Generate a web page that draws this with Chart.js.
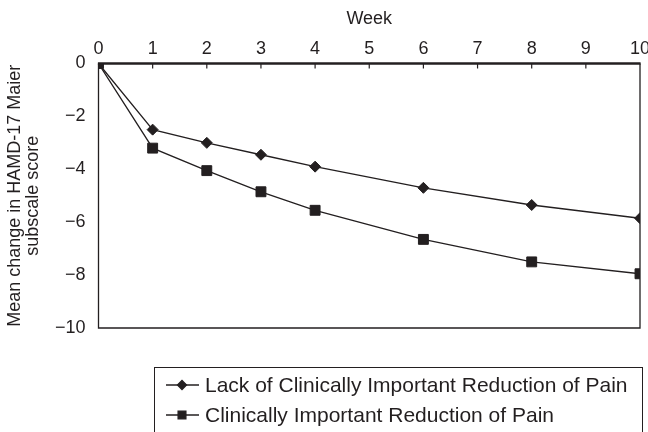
<!DOCTYPE html>
<html>
<head>
<meta charset="utf-8">
<script src="https://cdn.jsdelivr.net/npm/chart.js@4/dist/chart.umd.min.js"></script>
<style>
  html, body { margin: 0; padding: 0; background: #fff; }
</style>
</head>
<body>
<canvas id="grafico" width="648" height="432"></canvas>
<script>
const semanas = [0, 1, 2, 3, 4, 6, 8, 10];
const sinReduccion = [0, -2.5, -3.0, -3.45, -3.9, -4.7, -5.35, -5.85];
const conReduccion = [0, -3.2, -4.05, -4.85, -5.55, -6.65, -7.5, -7.95];
const etiquetas = ['Lack of Clinically Important Reduction of Pain', 'Clinically Important Reduction of Pain'];
const tituloX = 'Week';
const tituloY = ['Mean change in HAMD-17 Maier', 'subscale score'];

const tinta = '#231f20';
const fuente = 'Arial, "Liberation Sans", Helvetica, sans-serif';

function puntos(valores) {
  return semanas.map((s, i) => ({ x: s, y: valores[i] }));
}

// marco del area: linea superior gruesa y marcas hacia dentro
const marco = {
  id: 'marco',
  beforeDatasetsDraw(chart) {
    const { ctx, chartArea: a, scales } = chart;
    ctx.save();
    ctx.strokeStyle = tinta;
    ctx.lineWidth = 1.3;
    ctx.beginPath();
    ctx.moveTo(a.left, a.top);
    ctx.lineTo(a.left, a.bottom);
    ctx.lineTo(a.right, a.bottom);
    ctx.lineTo(a.right, a.top);
    ctx.stroke();
    ctx.lineWidth = 1.2;
    for (let s = 1; s < 10; s++) {
      const px = scales.x.getPixelForValue(s);
      ctx.beginPath();
      ctx.moveTo(px, a.top);
      ctx.lineTo(px, a.top + 5);
      ctx.stroke();
    }
    ctx.lineWidth = 2.6;
    ctx.beginPath();
    ctx.moveTo(a.left - 0.6, a.top);
    ctx.lineTo(a.right + 0.6, a.top);
    ctx.stroke();
    ctx.restore();
  }
};

// leyenda en caja abajo a la derecha
const leyenda = {
  id: 'leyenda',
  afterDraw(chart) {
    const ctx = chart.ctx;
    ctx.save();
    ctx.strokeStyle = tinta;
    ctx.lineWidth = 1;
    ctx.strokeRect(154.5, 367.5, 488, 80);
    ctx.font = '21px ' + fuente;
    ctx.textBaseline = 'middle';
    chart.data.datasets.forEach((ds, i) => {
      const y = 385 + i * 30;
      ctx.strokeStyle = tinta;
      ctx.lineWidth = 1.3;
      ctx.beginPath();
      ctx.moveTo(166, y);
      ctx.lineTo(199, y);
      ctx.stroke();
      ctx.fillStyle = tinta;
      Chart.helpers.drawPoint(ctx, {
        pointStyle: ds.pointStyle,
        radius: ds.pointStyle === 'rect' ? 5.5 : 4.5,
        rotation: 0,
        borderWidth: 1
      }, 182, y);
      ctx.fillText(ds.label, 205, y + 1);
    });
    ctx.restore();
  }
};

new Chart(document.getElementById('grafico'), {
  type: 'line',
  data: {
    datasets: [
      {
        label: etiquetas[0],
        data: puntos(sinReduccion),
        borderColor: tinta,
        backgroundColor: tinta,
        borderWidth: 1.3,
        pointStyle: 'rectRot',
        pointRadius: 5.5,
        pointBorderWidth: 1
      },
      {
        label: etiquetas[1],
        data: puntos(conReduccion),
        borderColor: tinta,
        backgroundColor: tinta,
        borderWidth: 1.3,
        pointStyle: 'rect',
        pointRadius: 7,
        pointBorderWidth: 1
      }
    ]
  },
  options: {
    responsive: false,
    animation: false,
    events: [],
    layout: { padding: { left: 0, right: 6, top: 0, bottom: 104 } },
    plugins: {
      legend: { display: false },
      tooltip: { enabled: false }
    },
    scales: {
      x: {
        type: 'linear',
        position: 'top',
        min: 0,
        max: 10,
        grid: { display: false, drawTicks: false },
        border: { display: false },
        ticks: {
          stepSize: 1,
          padding: 4,
          color: tinta,
          font: { family: fuente, size: 18 }
        },
        title: {
          display: true,
          text: tituloX,
          color: tinta,
          padding: { top: 8, bottom: 0 },
          font: { family: fuente, size: 18 }
        },
        afterFit(scale) {
          scale.height = 63.5;
          scale.paddingLeft = 0;
          scale.paddingRight = 0;
        }
      },
      y: {
        min: -10,
        max: 0,
        grid: { display: false, drawTicks: false },
        border: { display: false },
        ticks: {
          stepSize: 2,
          padding: 13,
          color: tinta,
          font: { family: fuente, size: 18 },
          callback: v => String(v).replace('-', '\u2212')
        },
        title: {
          display: true,
          text: tituloY,
          color: tinta,
          padding: { top: 6, bottom: 0 },
          font: { family: fuente, size: 18, lineHeight: 1 }
        },
        afterFit(scale) {
          scale.width = 98.5;
          scale.paddingTop = 0;
          scale.paddingBottom = 0;
        }
      }
    }
  },
  plugins: [marco, leyenda]
});
</script>
</body>
</html>
